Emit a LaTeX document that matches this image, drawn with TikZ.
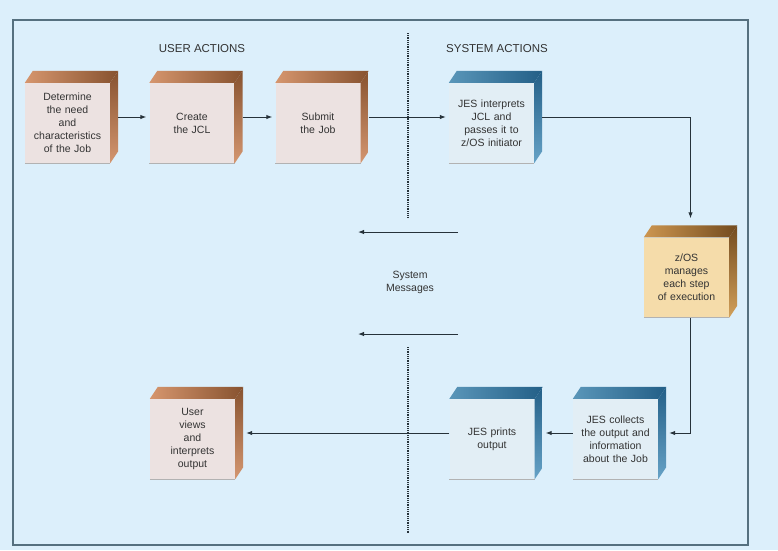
\documentclass[tikz,border=0pt]{standalone}
\usepackage{fontspec}
\setmainfont{Liberation Sans}
\usepackage{xcolor}
\usepackage{tikz}
\usetikzlibrary{arrows.meta}

\definecolor{bg}{HTML}{DCEFFB}
\definecolor{frameline}{HTML}{56707F}
\definecolor{ink}{HTML}{333333}
\definecolor{wire}{HTML}{26323A}
% copper, steel blue and gold cubes: front, top, dark edge, side
\definecolor{cuFront}{HTML}{ECE2E1}
\definecolor{cuTop}{HTML}{D6966E}
\definecolor{cuDark}{HTML}{87522F}
\definecolor{cuSide}{HTML}{D49670}
\definecolor{blFront}{HTML}{E2EEF5}
\definecolor{blTop}{HTML}{5A96B9}
\definecolor{blDark}{HTML}{235F87}
\definecolor{blSide}{HTML}{66A2C6}
\definecolor{auFront}{HTML}{F5DCAA}
\definecolor{auTop}{HTML}{CD9650}
\definecolor{auDark}{HTML}{734B1E}
\definecolor{auSide}{HTML}{D2A05A}

\begin{document}
\begin{tikzpicture}[x=1pt, y=-1pt,
  cube/.style = {fill=#1Front, minimum width=85pt, minimum height=80pt, text width=84pt,
    inner sep=0pt, align=center, text=ink, font=\fontsize{10.5}{13}\selectfont},
  head/.style = {text=ink, font=\fontsize{11.5}{13}\selectfont},
  flow/.style = {draw=wire, line width=1pt, -{Latex[length=6pt,width=4.5pt]}, shorten >=3pt},
  divider/.style = {draw=wire, line width=1.8pt, dash pattern=on 0.9pt off 0.9pt},
  frame/.style = {draw=frameline, line width=1.6pt}]

  \fill[bg] (0,0) rectangle (778,550);
  \useasboundingbox (0,0) rectangle (778,550);
  \draw[frame] (13,20) rectangle (748,545);

  \node[head] (user) at (202,49) {USER ACTIONS};
  \node[head] (system) at (497,49) {SYSTEM ACTIONS};

  \draw[divider] (408,33) -- (408,218);
  \draw[divider] (408,347) -- (408,533);

  % the eight cubes (front faces)
  \node[cube=cu] (need) at (67.5,123) {Determine\\the need\\and\\characteristics\\of the Job};
  \node[cube=cu] (jcl) at (192,123) {Create\\the JCL};
  \node[cube=cu] (submit) at (318,123) {Submit\\the Job};
  \node[cube=bl] (interp) at (491.5,123) {JES interprets\\JCL and\\passes it to\\z/OS initiator};
  \node[cube=au] (manage) at (686.5,277.5) {z/OS\\manages\\each step\\of execution};
  \node[cube=bl] (collect) at (615.5,439) {JES collects\\the output and\\information\\about the Job};
  \node[cube=bl] (prints) at (492,439) {JES prints\\output};
  \node[cube=cu] (views) at (192.5,439) {User\\views\\and\\interprets\\output};

  % top and side faces
  \foreach \n/\col in {need/cu, jcl/cu, submit/cu, interp/bl, manage/au, collect/bl, prints/bl, views/cu} {
    \shade[left color=\col Top, right color=\col Dark] (\n.north west) -- ++(8,-12)
      -- ([shift={(8,-12)}]\n.north east) -- (\n.north east) -- cycle;
    \shade[top color=\col Dark, bottom color=\col Side] (\n.north east) -- ([shift={(8,-12)}]\n.north east)
      -- ([shift={(8,-12)}]\n.south east) -- (\n.south east) -- cycle;
    \draw[black!30, line width=1pt] (\n.south west) -- (\n.south east);
  }

  \draw[flow] ([xshift=8pt,yshift=6pt]need.east) -- ([yshift=6pt]jcl.west);
  \draw[flow] ([xshift=8pt,yshift=6pt]jcl.east) -- ([yshift=6pt]submit.west);
  \draw[flow] ([xshift=8pt,yshift=6pt]submit.east) -- ([yshift=6pt]interp.west);
  \draw[flow, shorten >=7pt] ([xshift=8pt,yshift=6pt]interp.east) -| ([xshift=4pt,yshift=12pt]manage.north);
  \draw[flow] ([xshift=4pt]manage.south) |- ([xshift=8pt,yshift=6pt]collect.east);
  \draw[flow] ([yshift=6pt]collect.west) -- ([xshift=8pt,yshift=6pt]prints.east);
  \draw[flow] ([yshift=6pt]prints.west) -- ([xshift=8pt,yshift=6pt]views.east);

  % messages back to the user
  \node[text=ink, align=center, font=\fontsize{10.5}{13}\selectfont] (msg) at (410,282) {System\\Messages};
  \coordinate (msgA) at (458,232);
  \coordinate (msgAe) at (358,232);
  \coordinate (msgB) at (458,334);
  \coordinate (msgBe) at (358,334);
  \draw[flow, shorten >=0pt] (msgA) -- (msgAe);
  \draw[flow, shorten >=0pt] (msgB) -- (msgBe);
\end{tikzpicture}
\end{document}
